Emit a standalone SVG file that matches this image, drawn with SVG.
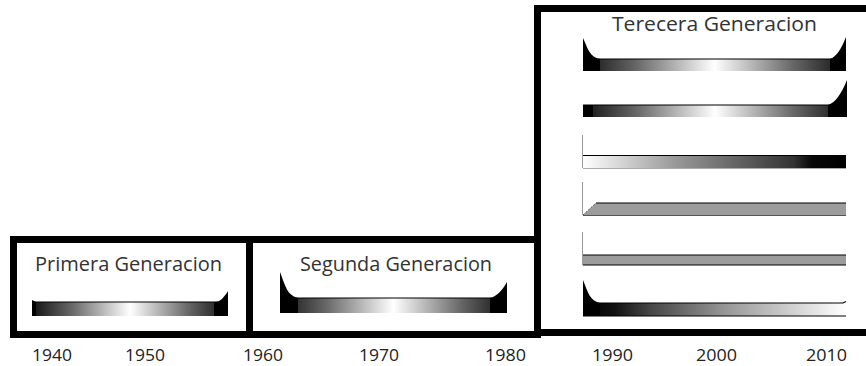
<svg xmlns="http://www.w3.org/2000/svg" width="866" height="366" viewBox="0 0 866 366">
<style>
.frame{fill:none;stroke:#000;stroke-width:7;stroke-linecap:square}
.lbl{font-family:"Open Sans","Liberation Sans",sans-serif;font-size:20px;fill:#333}
.yr{font-family:"Open Sans","Liberation Sans",sans-serif;font-size:16px;fill:#222}
.blk{fill:#000}
.edge{stroke:#000;stroke-width:1.2;fill:none}
.thin{stroke:#999;stroke-width:1;fill:none}
</style>
<defs>
<linearGradient id="symh" x1="0" x2="1" y1="0" y2="0">
<stop offset="0" stop-color="#111"/><stop offset="0.08" stop-color="#333"/><stop offset="0.2" stop-color="#666"/><stop offset="0.5" stop-color="#fff"/><stop offset="0.8" stop-color="#666"/><stop offset="0.92" stop-color="#333"/><stop offset="1" stop-color="#111"/>
</linearGradient>
<linearGradient id="w2b" x1="0" x2="1" y1="0" y2="0">
<stop offset="0" stop-color="#fff"/><stop offset="0.35" stop-color="#999"/><stop offset="0.8" stop-color="#333"/><stop offset="0.87" stop-color="#080808"/><stop offset="1" stop-color="#000"/>
</linearGradient>
<linearGradient id="b2w" x1="0" x2="1" y1="0" y2="0">
<stop offset="0" stop-color="#000"/><stop offset="0.12" stop-color="#111"/><stop offset="0.25" stop-color="#444"/><stop offset="0.55" stop-color="#999"/><stop offset="1" stop-color="#fff"/>
</linearGradient>
</defs>

<g id="primera">
<path class="frame" d="M13.5 239.5 H249.5 V334.5 H13.5 Z"/>
<text class="lbl" x="35" y="271" textLength="187" lengthAdjust="spacingAndGlyphs">Primera Generacion</text>
<g id="bar-primera">
<rect x="32" y="302" width="196" height="14" fill="url(#symh)"/>
<path class="edge" d="M32 302 H218"/>
<path class="blk" d="M32 300 V316 H36 V302 Z"/>
<path class="blk" d="M228 291 V316 H214 V302 H216 C220.8 301 224.4 297 228 291 Z"/>
</g>
</g>

<g id="segunda">
<path class="frame" d="M249.5 239.5 H537.5 V334.5 H249.5 Z"/>
<text class="lbl" x="300" y="271" textLength="192" lengthAdjust="spacingAndGlyphs">Segunda Generacion</text>
<g id="bar-segunda">
<rect x="280" y="298" width="227" height="15" fill="url(#symh)"/>
<path class="edge" d="M296 298 H492"/>
<path class="blk" d="M280 272 V313 H298 V298 C287.2 295.4 285.4 286.3 280 272 Z"/>
<path class="blk" d="M507 282 V313 H490 V298 C496.8 296.4 501.9 290.8 507 282 Z"/>
</g>
</g>

<g id="tercera">
<path class="frame" d="M537.5 332.5 V8.5 H872 M537.5 332.5 H872"/>
<text class="lbl" x="612" y="31" textLength="205" lengthAdjust="spacingAndGlyphs">Terecera Generacion</text>
<g id="bar-t1">
<rect x="583" y="59" width="263" height="12" fill="url(#symh)"/>
<path class="edge" d="M598 59 H832"/>
<path class="blk" d="M583 38 V71 H600 V59 C589.8 56.9 588.1 49.5 583 38 Z"/>
<path class="blk" d="M846 37 V71 H830 V59 C836.4 56.8 841.2 49.1 846 37 Z"/>
</g>
<g id="bar-t2">
<rect x="583" y="105" width="264" height="12" fill="url(#symh)"/>
<path class="edge" d="M583 105 H830"/>
<rect x="583" y="105" width="10" height="12" fill="#000"/>
<path class="blk" d="M847 80 V117 H828 V105 C835.6 102.5 841.3 93.8 847 80 Z"/>
</g>
<g id="bar-t3">
<path class="thin" d="M582.5 135 V168"/>
<rect x="583" y="155" width="263" height="13" fill="url(#w2b)"/>
<path class="edge" d="M583 155.5 H846"/>
<path d="M583 168.5 H846" stroke="#aaa" stroke-width="1"/>
</g>
<g id="bar-t4">
<path class="thin" d="M582.5 182 V215"/>
<path d="M583 215 L596 203 H846 V215 Z" fill="#9c9c9c"/>
<path class="edge" d="M596 203 H846"/>
<path d="M583 215 L596 203" stroke="#555" stroke-width="1" stroke-dasharray="2 1.5"/>
<path d="M583 215.5 H846" stroke="#555" stroke-width="1"/>
</g>
<g id="bar-t5">
<path class="thin" d="M582.5 232 V265"/>
<rect x="583" y="255" width="263" height="10" fill="#9c9c9c"/>
<path class="edge" d="M583 255 H846 M583 265 H846"/>
</g>
<g id="bar-t6">
<rect x="583" y="303" width="263" height="13" fill="url(#b2w)"/>
<path class="edge" d="M598 303 H843 L846 301.5 M583 316 H846"/>
<path class="blk" d="M583 280 V316 H600 V303 C589.8 300.7 588.1 292.7 583 280 Z"/>
</g>
</g>

<g id="axis">
<text class="yr" x="32" y="361" textLength="40" lengthAdjust="spacingAndGlyphs">1940</text>
<text class="yr" x="125" y="361" textLength="40" lengthAdjust="spacingAndGlyphs">1950</text>
<text class="yr" x="243" y="361" textLength="40" lengthAdjust="spacingAndGlyphs">1960</text>
<text class="yr" x="359" y="361" textLength="40" lengthAdjust="spacingAndGlyphs">1970</text>
<text class="yr" x="485" y="361" textLength="41" lengthAdjust="spacingAndGlyphs">1980</text>
<text class="yr" x="592" y="361" textLength="41" lengthAdjust="spacingAndGlyphs">1990</text>
<text class="yr" x="696" y="361" textLength="41" lengthAdjust="spacingAndGlyphs">2000</text>
<text class="yr" x="806" y="361" textLength="41" lengthAdjust="spacingAndGlyphs">2010</text>
</g>
</svg>
